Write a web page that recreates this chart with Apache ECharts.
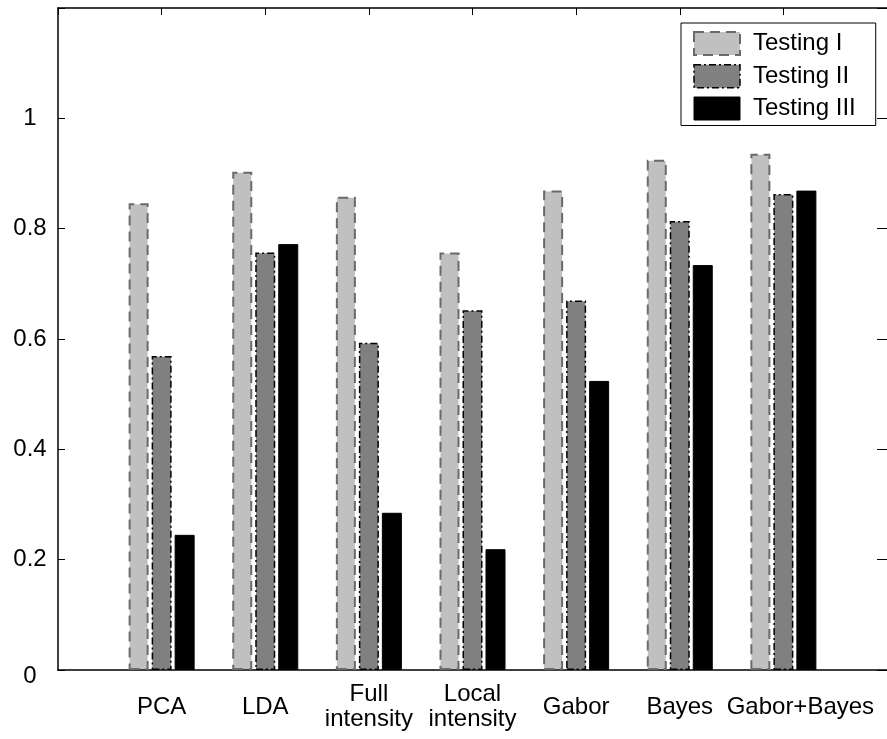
<!DOCTYPE html>
<html>
<head>
<meta charset="utf-8">
<script src="https://cdn.jsdelivr.net/npm/echarts@6/dist/echarts.min.js"></script>
<style>html,body{margin:0;padding:0;background:#fff;}#chart{width:887px;height:739px;}</style>
</head>
<body>
<div id="chart"></div>
<script>
const categories = ['PCA', 'LDA', 'Full\nintensity', 'Local\nintensity', 'Gabor', 'Bayes', 'Gabor+Bayes'];
const seriesNames = ['Testing I', 'Testing II', 'Testing III'];
const testing1 = [0.846, 0.903, 0.858, 0.757, 0.869, 0.925, 0.936];
const testing2 = [0.569, 0.757, 0.593, 0.652, 0.670, 0.814, 0.863];
const testing3 = [0.245, 0.772, 0.285, 0.219, 0.524, 0.734, 0.869];
const yTicks = [0, 0.2, 0.4, 0.6, 0.8, 1];

const FONT = 'Liberation Sans';
const FS = 24;
const toPoints = arr => arr.map((v, i) => [i + 1, v]);

const styles = [
  { color: '#c0c0c0', borderColor: '#6a6a6a', borderWidth: 2, borderType: [10, 6] },
  { color: '#808080', borderColor: '#000000', borderWidth: 1.5, borderType: [7, 3, 2, 3] },
  { color: '#000000', borderColor: '#000000', borderWidth: 1, borderType: 'solid' }
];
const legendStyles = [
  { borderColor: '#6a6a6a', borderWidth: 2, borderType: [10, 6] },
  { borderColor: '#000000', borderWidth: 1.5, borderType: [7, 3, 2, 3] },
  { borderColor: '#000000', borderWidth: 1, borderType: 'solid' }
];
const dataSets = [testing1, testing2, testing3];

const chart = echarts.init(document.getElementById('chart'), null, { renderer: 'canvas' });
chart.setOption({
  backgroundColor: '#ffffff',
  animation: false,
  grid: { left: 58, top: 8, width: 832, bottom: 69, containLabel: false },
  legend: {
    orient: 'vertical',
    left: 681, top: 23,
    padding: [8, 20, 5, 12],
    itemWidth: 46, itemHeight: 23, itemGap: 8,
    backgroundColor: '#ffffff',
    borderColor: '#000000', borderWidth: 1, borderRadius: 0,
    icon: 'rect',
    textStyle: { fontFamily: FONT, fontSize: FS, color: '#000', padding: [0, 0, 0, 8] },
    data: seriesNames.map((n, k) => ({ name: n, itemStyle: legendStyles[k] }))
  },
  xAxis: [
    {
      type: 'value', position: 'bottom', min: 0, max: 8, interval: 1,
      axisLine: { show: true, onZero: false, lineStyle: { color: '#000', width: 1.5 } },
      axisTick: { show: true, inside: true, length: 7, lineStyle: { color: '#000' } },
      splitLine: { show: false },
      axisLabel: {
        show: true, fontFamily: FONT, fontSize: FS, color: '#000', lineHeight: 25,
        verticalAlign: 'middle', margin: 37,
        showMinLabel: false, showMaxLabel: false,
        formatter: v => {
          const i = v - 1;
          const name = categories[i];
          if (name === undefined) return '';
          if (i === categories.length - 1) return '{s|' + name + '}';
          return name;
        },
        rich: {
          s: { fontFamily: FONT, fontSize: FS, color: '#000', padding: [0, 0, 0, 34] }
        }
      }
    },
    {
      type: 'value', position: 'top', min: 0, max: 8, interval: 1,
      axisLine: { show: true, onZero: false, lineStyle: { color: '#000', width: 1.5 } },
      axisTick: { show: true, inside: true, length: 7, lineStyle: { color: '#000' } },
      splitLine: { show: false },
      axisLabel: { show: false }
    }
  ],
  yAxis: [
    {
      type: 'value', position: 'left', min: 0, max: 1.2, interval: 0.2,
      axisLine: { show: true, onZero: false, lineStyle: { color: '#000', width: 1.5 } },
      axisTick: { show: true, inside: true, length: 7, lineStyle: { color: '#000' } },
      splitLine: { show: false },
      axisLabel: {
        fontFamily: FONT, fontSize: FS, color: '#000', align: 'center', margin: 28,
        formatter: v => {
          const t = yTicks.find(k => Math.abs(k - v) < 1e-9);
          if (t === undefined) return '';
          if (t === 0) return '{z|0}';
          return String(t);
        },
        rich: {
          z: { fontFamily: FONT, fontSize: FS, color: '#000', padding: [12, 0, 0, 0] }
        }
      }
    },
    {
      type: 'value', position: 'right', min: 0, max: 1.2, interval: 0.2,
      axisLine: { show: true, onZero: false, lineStyle: { color: 'rgba(0,0,0,0)', width: 1 } },
      axisTick: { show: true, inside: true, length: 10, lineStyle: { color: '#000', width: 1 } },
      splitLine: { show: false },
      axisLabel: { show: false }
    }
  ],
  series: seriesNames.map((name, k) => ({
    name: name,
    type: 'bar',
    xAxisIndex: 0, yAxisIndex: 0,
    barWidth: 20,
    barGap: '15%',
    itemStyle: styles[k],
    emphasis: { disabled: true },
    data: toPoints(dataSets[k])
  }))
});
</script>
</body>
</html>
